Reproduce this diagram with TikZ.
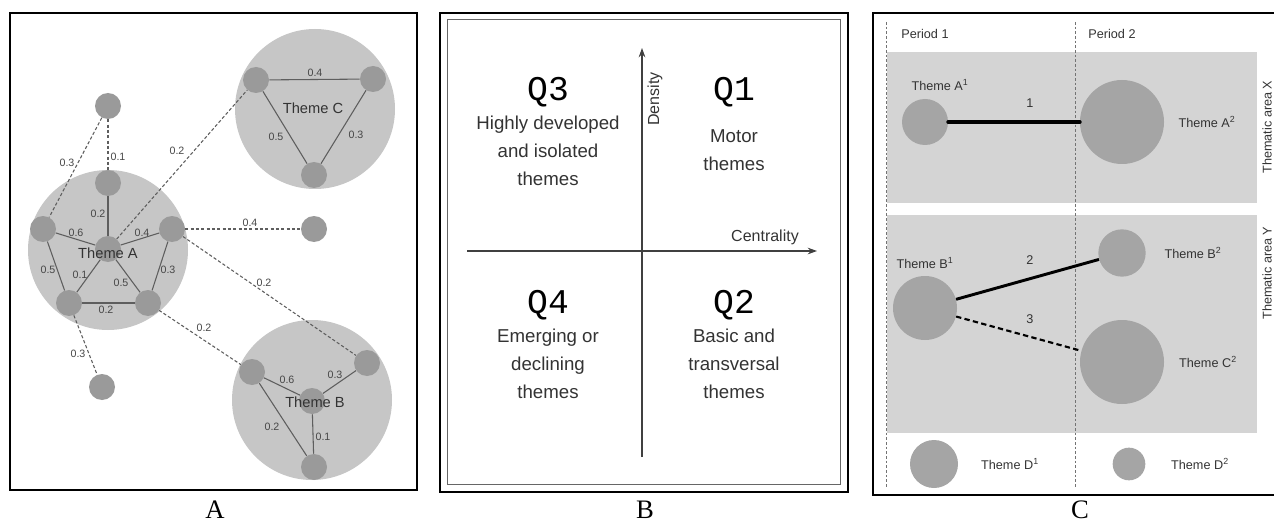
\documentclass[tikz,border=0pt]{standalone}
\usepackage{fontspec}
\setmainfont{Liberation Sans}
\newfontfamily\panelfont{Liberation Serif}
\newfontfamily\quadfont{Liberation Mono}
\usetikzlibrary{backgrounds, arrows.meta}

\definecolor{areagrey}{HTML}{C6C6C6}
\definecolor{nodegrey}{HTML}{9A9A9A}
\definecolor{edgegrey}{HTML}{5E5E5E}
\definecolor{labelgrey}{HTML}{474747}
\definecolor{bandgrey}{HTML}{D4D4D4}
\definecolor{themegrey}{HTML}{A5A5A5}

\tikzset{
  kw/.style={circle, fill=nodegrey, minimum size=19.5pt, inner sep=0pt},
  strong/.style={edgegrey, line width=0.8pt},
  weak/.style={edgegrey, line width=0.8pt, dash pattern=on 2.4pt off 1.6pt},
  wlabel/.style={font=\fontsize{8}{9}\selectfont, text=labelgrey, inner sep=0pt},
  clustername/.style={font=\fontsize{11}{12}\selectfont, text=black!80, inner sep=0pt},
  quadname/.style={font=\quadfont\fontsize{26}{28}\selectfont, inner sep=0pt},
  quadtext/.style={font=\fontsize{14}{21}\selectfont, align=center, text=black!80, inner sep=0pt},
  theme/.style={circle, fill=themegrey, inner sep=0pt},
  ctext/.style={font=\fontsize{9.5}{11}\selectfont, text=black!80, inner sep=0pt},
  panelname/.style={font=\panelfont\fontsize{20}{22}\selectfont, inner sep=0pt},
}

\begin{document}
\begin{tikzpicture}[x=0.75pt, y=-0.75pt]
\useasboundingbox (0,0) rectangle (1274,524);

% ---------- A: clusters and their links ----------
\draw[line width=1.5pt] (10,13) rectangle (417,490);

\node[kw] (a0) at (108,249) {};
\node[kw] (a1) at (108,183) {};
\node[kw] (a2) at (172,229) {};
\node[kw] (a3) at (148,303) {};
\node[kw] (a4) at (69,303) {};
\node[kw] (a5) at (43,229) {};

\node[kw] (c1) at (256,80) {};
\node[kw] (c2) at (373,79) {};
\node[kw] (c3) at (314,175) {};

\node[kw] (b0) at (312,401) {};
\node[kw] (b1) at (252,372) {};
\node[kw] (b2) at (367,363) {};
\node[kw] (b3) at (314,467) {};

\node[kw] (i1) at (108,106) {};
\node[kw] (i2) at (314,229) {};
\node[kw] (i3) at (102,387) {};

\begin{scope}[on background layer]
  \fill[areagrey] (108,250) circle (80);
  \fill[areagrey] (315,109) circle (80);
  \fill[areagrey] (312,400) circle (80);

  % links inside the clusters
  \foreach \u/\v in {a0/a1, a0/a2, a0/a3, a0/a4, a0/a5, a5/a4, a4/a3, a3/a2,
                     c1/c2, c2/c3, c3/c1, b1/b0, b2/b0, b0/b3, b1/b3}
    \draw[strong] (\u) -- (\v);

  % links between clusters
  \foreach \u/\v in {i1/a5, i1/a1, a0/c1, a2/i2, a2/b2, a3/b1, a4/i3}
    \draw[weak] (\u) -- (\v);
\end{scope}

\node[clustername] (nA) at (108,253) {Theme A};
\node[clustername] (nC) at (313,108) {Theme C};
\node[clustername] (nB) at (315,402) {Theme B};

\foreach \x/\y/\w [count=\i] in {
    67/163/0.3, 118/157/0.1, 177/151/0.2, 98/214/0.2, 76/233/0.6, 142/233/0.4,
    250/223/0.4, 48/270/0.5, 80/275/0.1, 121/283/0.5, 168/270/0.3, 106/310/0.2,
    264/283/0.2, 204/328/0.2, 78/354/0.3, 315/73/0.4, 276/137/0.5, 356/135/0.3,
    287/380/0.6, 335/375/0.3, 272/427/0.2, 323/437/0.1}
  \node[wlabel] (w\i) at (\x,\y) {\w};

\node[panelname] (pA) at (215,510) {A};

% ---------- B: strategic diagram ----------
\draw[line width=1.5pt] (440,13) rectangle (848,492);
\draw[black!60, line width=0.7pt] (447,19) rectangle (840,484);

\draw[black!75, line width=0.8pt, -{Stealth[length=7pt, width=5pt]}] (467,251) -- (817,251);
\draw[black!75, line width=0.8pt, -{Stealth[length=7pt, width=5pt]}] (642,457) -- (642,48);

\node[font=\fontsize{12}{14}\selectfont, text=black!80, rotate=90, inner sep=0pt] (dens) at (655,99) {Density};
\node[font=\fontsize{12}{14}\selectfont, text=black!80, inner sep=0pt] (cent) at (765,237) {Centrality};

\node[quadname] (q3) at (548,92) {Q3};
\node[quadname] (q1) at (734,92) {Q1};
\node[quadname] (q4) at (548,305) {Q4};
\node[quadname] (q2) at (734,305) {Q2};

\node[quadtext, anchor=north] (t3) at (548,116) {Highly developed\\and isolated\\themes};
\node[quadtext, anchor=north] (t1) at (734,129) {Motor\\themes};
\node[quadtext, anchor=north] (t4) at (548,329) {Emerging or\\declining\\themes};
\node[quadtext, anchor=north] (t2) at (734,329) {Basic and\\transversal\\themes};

\node[panelname] (pB) at (645,510) {B};

% ---------- C: thematic evolution ----------
\draw[line width=1.5pt] (873,13) rectangle (1282,495);

\begin{scope}[on background layer]
  \fill[bandgrey] (887,52) rectangle (1257,203);
  \fill[bandgrey] (887,215) rectangle (1257,433);
  \draw[black!55, line width=0.6pt, dash pattern=on 2pt off 1.5pt] (886,22) -- (886,488);
  \draw[black!55, line width=0.6pt, dash pattern=on 2pt off 1.5pt] (1075,22) -- (1075,488);
\end{scope}

\node[ctext] (per1) at (925,34) {Period 1};
\node[ctext] (per2) at (1112,34) {Period 2};

\node[theme, minimum size=34.5pt] (A1) at (925,122) {};
\node[theme, minimum size=63pt] (A2) at (1122,122) {};
\node[theme, minimum size=48pt] (B1) at (925,308) {};
\node[theme, minimum size=35.5pt] (B2) at (1122,253) {};
\node[theme, minimum size=63pt] (C2) at (1122,362) {};
\node[theme, minimum size=36pt] (D1) at (934,464) {};
\node[theme, minimum size=24.5pt] (D2) at (1129,464) {};

\draw[line width=3pt, line cap=round] (A1) -- (A2);
\draw[line width=2.2pt] (B1) -- (B2);
\draw[line width=1.6pt, dash pattern=on 4pt off 2.5pt] (B1) -- (C2);

\node[ctext] (e1) at (1030,103) {1};
\node[ctext] (e2) at (1030,260) {2};
\node[ctext] (e3) at (1030,319) {3};

\node[ctext] (lA1) at (940,85) {Theme A\textsuperscript{1}};
\node[ctext] (lA2) at (1207,122) {Theme A\textsuperscript{2}};
\node[ctext] (lB1) at (925,263) {Theme B\textsuperscript{1}};
\node[ctext] (lB2) at (1193,253) {Theme B\textsuperscript{2}};
\node[ctext] (lC2) at (1208,362) {Theme C\textsuperscript{2}};
\node[ctext] (lD1) at (1010,464) {Theme D\textsuperscript{1}};
\node[ctext] (lD2) at (1200,464) {Theme D\textsuperscript{2}};

\node[ctext, rotate=90] (areaX) at (1267,127) {Thematic area X};
\node[ctext, rotate=90] (areaY) at (1267,273) {Thematic area Y};

\node[panelname] (pC) at (1080,510) {C};

\end{tikzpicture}
\end{document}
